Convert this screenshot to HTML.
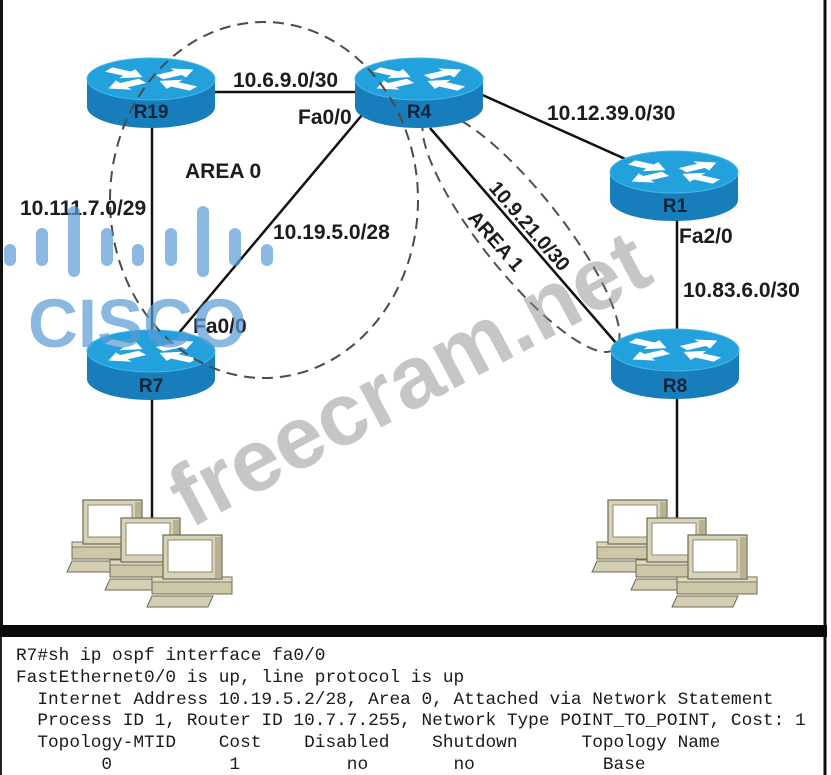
<!DOCTYPE html>
<html>
<head>
<meta charset="utf-8">
<style>
  html,body{margin:0;padding:0;background:#fff;}
  svg{display:block;}
  .lbl{font-family:"Liberation Sans",Arial,sans-serif;font-weight:bold;font-size:21px;fill:#1c1c1c;}
  .rl{font-family:"Liberation Sans",Arial,sans-serif;font-weight:bold;font-size:19px;fill:#0e2438;}
  .mono{font-family:"Liberation Mono","DejaVu Sans Mono",monospace;font-size:17.8px;fill:#1a1a1a;white-space:pre;}
</style>
</head>
<body>
<svg width="831" height="775" viewBox="0 0 831 775" xmlns="http://www.w3.org/2000/svg">
  <defs>
    <g id="rt">
      <path d="M-64,0 L-64,28 A64,21 0 0 0 64,28 L64,0 Z" fill="#177dbb"/>
      <ellipse cx="0" cy="0" rx="64" ry="21" fill="#22a1dc" stroke="#45b8ea" stroke-width="1"/>
      <g transform="scale(1,0.36)" fill="#ffffff">
        <polygon points="10,-7 32,-7 32,-15 50,0 32,15 32,7 10,7" transform="rotate(-32)"/>
        <polygon points="10,-7 32,-7 32,-15 50,0 32,15 32,7 10,7" transform="rotate(148)"/>
        <polygon points="50,-7 28,-7 28,-15 10,0 28,15 28,7 50,7" transform="rotate(32)"/>
        <polygon points="50,-7 28,-7 28,-15 10,0 28,15 28,7 50,7" transform="rotate(212)"/>
      </g>
    </g>
    <g id="pc">
      <rect x="-11" y="42" width="80" height="17" fill="#cdc7a8" stroke="#6d6955" stroke-width="1"/>
      <rect x="-11" y="42" width="80" height="5" fill="#ddd8be" stroke="#6d6955" stroke-width="0.8"/>
      <polygon points="-11,61 50,61 45,72 -16,72" fill="#d4cfb3" stroke="#6d6955" stroke-width="1"/>
      <rect x="0" y="0" width="59" height="44" fill="#d8d3b7" stroke="#6d6955" stroke-width="1.2"/>
      <rect x="52" y="2" width="6" height="41" fill="#b8b293"/>
      <rect x="5" y="5" width="44" height="32" fill="#ffffff" stroke="#8d8973" stroke-width="1"/>
    </g>
  </defs>

  <rect x="0" y="0" width="831" height="775" fill="#ffffff"/>

  <!-- frame -->
  <line x1="1.5" y1="0" x2="1.5" y2="627" stroke="#111" stroke-width="3"/>
  <line x1="825" y1="0" x2="825" y2="627" stroke="#111" stroke-width="3"/>
  <rect x="0" y="625" width="827" height="12" fill="#0a0a0a"/>
  <line x1="1" y1="637" x2="1" y2="775" stroke="#222" stroke-width="2"/>
  <line x1="825" y1="637" x2="825" y2="775" stroke="#111" stroke-width="3"/>

  <!-- Area 1 dashed ellipse (under routers) -->
  <ellipse cx="521" cy="232" rx="150" ry="40" transform="rotate(51.5 521 232)" fill="none" stroke="#505050" stroke-width="2" stroke-dasharray="11 7"/>

  <!-- solid links -->
  <g stroke="#111" stroke-width="2.5" fill="none">
    <line x1="205" y1="92" x2="365" y2="92"/>
    <line x1="152" y1="115" x2="152" y2="345"/>
    <line x1="362" y1="115" x2="178" y2="334"/>
    <line x1="478" y1="93" x2="632" y2="162"/>
    <line x1="430" y1="128" x2="616" y2="343"/>
    <line x1="677" y1="210" x2="677" y2="340"/>
    <line x1="152" y1="390" x2="152" y2="519"/>
    <line x1="677" y1="390" x2="677" y2="519"/>
  </g>

  <!-- routers -->
  <use href="#rt" x="151" y="79"/>
  <use href="#rt" x="419" y="79"/>
  <use href="#rt" x="674" y="172"/>
  <use href="#rt" x="151" y="351"/>
  <use href="#rt" x="675" y="350"/>

  <text class="rl" x="151" y="118" text-anchor="middle">R19</text>
  <text class="rl" x="419" y="118" text-anchor="middle">R4</text>
  <text class="rl" x="675" y="212" text-anchor="middle">R1</text>
  <text class="rl" x="151" y="392" text-anchor="middle">R7</text>
  <text class="rl" x="675" y="392" text-anchor="middle">R8</text>

  <!-- Area 0 dashed ellipse (over routers) -->
  <ellipse cx="264" cy="200" rx="154" ry="178" fill="none" stroke="#4a4a4a" stroke-width="2" stroke-dasharray="11 7"/>

  <!-- PCs left -->
  <use href="#pc" x="83" y="500"/>
  <use href="#pc" x="121" y="518"/>
  <use href="#pc" x="163" y="535"/>
  <!-- PCs right -->
  <use href="#pc" x="608" y="500"/>
  <use href="#pc" x="647" y="518"/>
  <use href="#pc" x="688" y="535"/>

  <!-- labels -->
  <text class="lbl" x="233" y="87">10.6.9.0/30</text>
  <text class="lbl" x="298" y="124">Fa0/0</text>
  <text class="lbl" x="185" y="178">AREA 0</text>
  <text class="lbl" x="20" y="215">10.111.7.0/29</text>
  <text class="lbl" x="273" y="239">10.19.5.0/28</text>
  <text class="lbl" x="193" y="333">Fa0/0</text>
  <text class="lbl" x="547" y="120">10.12.39.0/30</text>
  <text class="lbl" x="679" y="243">Fa2/0</text>
  <text class="lbl" x="683" y="297">10.83.6.0/30</text>
  <text class="lbl" style="font-size:20px" transform="translate(488 188.5) rotate(49)">10.9.21.0/30</text>
  <text class="lbl" style="font-size:20px" transform="translate(467 218) rotate(49)">AREA 1</text>

  <!-- Cisco watermark -->
  <g fill="#5b9bd5" opacity="0.7">
    <rect x="4" y="244" width="12" height="22" rx="6"/>
    <rect x="36" y="228" width="12" height="38" rx="6"/>
    <rect x="68" y="206" width="12" height="71" rx="6"/>
    <rect x="101" y="228" width="12" height="38" rx="6"/>
    <rect x="132" y="244" width="12" height="22" rx="6"/>
    <rect x="165" y="228" width="12" height="38" rx="6"/>
    <rect x="197" y="206" width="12" height="71" rx="6"/>
    <rect x="229" y="228" width="12" height="38" rx="6"/>
    <rect x="261" y="244" width="12" height="22" rx="6"/>
    <text x="28" y="347" style="font-family:'Liberation Sans',Arial,sans-serif;font-weight:bold;font-size:69px;">CISCO</text>
  </g>

  <!-- freecram watermark -->
  <text transform="translate(190 529) rotate(-28)" style="font-family:'Liberation Sans',Arial,sans-serif;font-weight:bold;font-size:88px;" fill="#8a8a8a" opacity="0.48">freecram.net</text>

  <!-- CLI output -->
  <text class="mono" x="16" y="660">R7#sh ip ospf interface fa0/0</text>
  <text class="mono" x="16" y="682">FastEthernet0/0 is up, line protocol is up</text>
  <text class="mono" x="16" y="704">  Internet Address 10.19.5.2/28, Area 0, Attached via Network Statement</text>
  <text class="mono" x="16" y="725">  Process ID 1, Router ID 10.7.7.255, Network Type POINT_TO_POINT, Cost: 1</text>
  <text class="mono" x="16" y="747">  Topology-MTID    Cost    Disabled    Shutdown      Topology Name</text>
  <text class="mono" x="16" y="769">        0           1          no        no            Base</text>
</svg>
</body>
</html>
